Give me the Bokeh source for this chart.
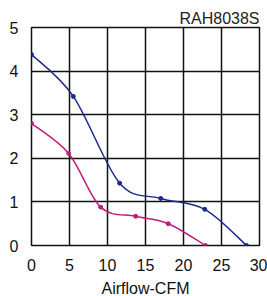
from bokeh.plotting import figure
from bokeh.embed import file_html
from bokeh.resources import INLINE
from bokeh.models import FixedTicker, Range1d

blue_x = [0, 5.5, 11.6, 17.0, 22.8, 28.3]
blue_y = [4.38, 3.42, 1.43, 1.08, 0.83, 0.0]
pink_x = [0, 4.9, 9.1, 13.7, 18.0, 22.9]
pink_y = [2.8, 2.11, 0.88, 0.67, 0.5, 0.0]
x_ticks = [0, 5, 10, 15, 20, 25, 30]
y_ticks = [0, 1, 2, 3, 4, 5]
model = "RAH8038S"
x_title = "Airflow-CFM"

FONT = "Liberation Sans"

p = figure(frame_width=228, frame_height=218, output_backend="svg", toolbar_location=None,
           x_range=Range1d(0, 30), y_range=Range1d(0, 5),
           min_border_left=31, min_border_right=8, min_border_top=27, min_border_bottom=50,
           title=model)
p.title.align = "right"
p.title.text_font = FONT
p.title.text_font_size = "16px"
p.title.text_font_style = "normal"
p.title.text_color = "#222222"
p.title.offset = 0
p.title.standoff = 1

p.outline_line_color = "#111111"
p.outline_line_width = 1.5
for ax in (p.xaxis, p.yaxis):
    ax.axis_line_color = None
    ax.major_tick_line_color = None
    ax.minor_tick_line_color = None
    ax.major_label_text_font = FONT
    ax.major_label_text_font_size = "16px"
    ax.major_label_text_color = "#111111"
p.xaxis.ticker = FixedTicker(ticks=x_ticks)
p.yaxis.ticker = FixedTicker(ticks=y_ticks)
p.xaxis.major_label_standoff = 7
p.yaxis.major_label_standoff = 7
p.xaxis.axis_label = x_title
p.xaxis.axis_label_text_font = FONT
p.xaxis.axis_label_text_font_size = "16px"
p.xaxis.axis_label_text_font_style = "normal"
p.xaxis.axis_label_standoff = 6
p.xaxis.axis_label_text_color = "#111111"

p.xgrid.ticker = FixedTicker(ticks=x_ticks)
p.ygrid.ticker = FixedTicker(ticks=y_ticks)
for g in (p.xgrid, p.ygrid):
    g.grid_line_color = "#111111"
    g.grid_line_width = 1.5
    g.grid_line_alpha = 1.0


def smooth(xs, ys, color):
    n = len(xs)
    X = [xs[0]] + list(xs) + [xs[-1]]
    Y = [ys[0]] + list(ys) + [ys[-1]]
    d = dict(x0=[], y0=[], x1=[], y1=[], cx0=[], cy0=[], cx1=[], cy1=[])
    for i in range(1, n):
        d["x0"].append(X[i]); d["y0"].append(Y[i])
        d["x1"].append(X[i + 1]); d["y1"].append(Y[i + 1])
        d["cx0"].append(X[i] + (X[i + 1] - X[i - 1]) / 6)
        d["cy0"].append(Y[i] + (Y[i + 1] - Y[i - 1]) / 6)
        d["cx1"].append(X[i + 1] - (X[i + 2] - X[i]) / 6)
        d["cy1"].append(Y[i + 1] - (Y[i + 2] - Y[i]) / 6)
    p.bezier(source=d, x0="x0", y0="y0", x1="x1", y1="y1",
             cx0="cx0", cy0="cy0", cx1="cx1", cy1="cy1",
             line_color=color, line_width=1.5)
    p.scatter(xs, ys, size=4, color=color)


smooth(blue_x, blue_y, "#1c2a8c")
smooth(pink_x, pink_y, "#c01e7c")

open("out.html", "w").write(file_html(p, INLINE))
